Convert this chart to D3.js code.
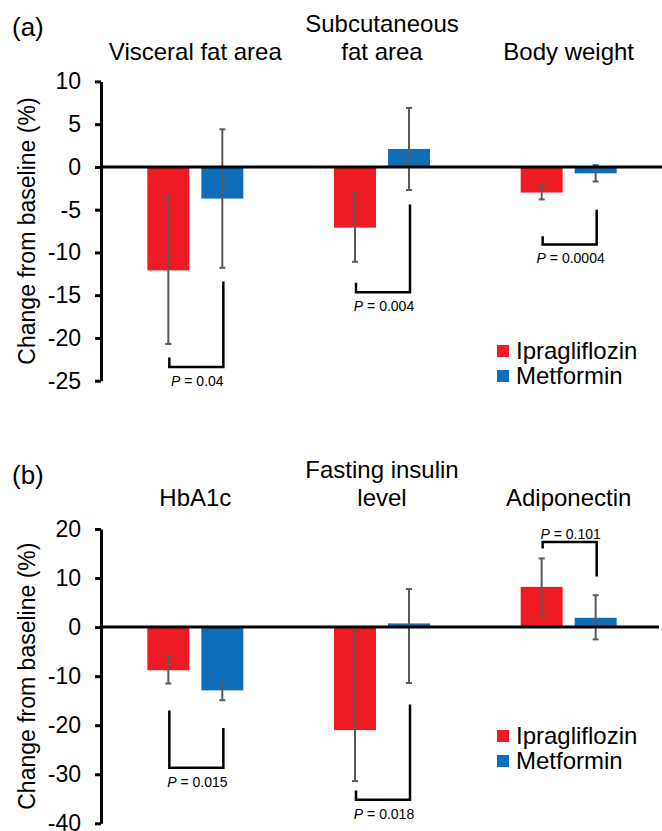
<!DOCTYPE html>
<html><head><meta charset="utf-8">
<script src="https://cdn.jsdelivr.net/npm/d3@7/dist/d3.min.js"></script>
<style>body{margin:0;background:#fff} svg{display:block;font-family:"Liberation Sans",Arial,Helvetica,sans-serif}</style>
</head><body><svg id="c" width="662" height="831"></svg>
<script>
// ---------- data ----------
const seriesNames = ["Ipragliflozin", "Metformin"];

// Panel (a)
const categoriesA = ["Visceral fat area", "Subcutaneous|fat area", "Body weight"];
const ticksA = [10, 5, 0, -5, -10, -15, -20, -25];
const ipraA = [-12.1, -7.1, -3.0];
const metA = [-3.7, 2.1, -0.75];
const ipraA_low = [-20.7, -11.1, -3.8];
const ipraA_high = [-3.5, -3.1, -2.1];
const metA_low = [-11.8, -2.7, -1.7];
const metA_high = [4.4, 6.9, 0.2];
const pValuesA = ["0.04", "0.004", "0.0004"];
const bracketA_bar = [-23.4, -14.65, -9.06];
const bracketA_left = [-22.3, -13.55, -8.1];
const bracketA_right = [-13.4, -4.4, -5.0];

// Panel (b)
const categoriesB = ["HbA1c", "Fasting insulin|level", "Adiponectin"];
const ticksB = [20, 10, 0, -10, -20, -30, -40];
const ipraB = [-8.8, -21.0, 8.2];
const metB = [-12.9, 0.75, 1.9];
const ipraB_low = [-11.5, -31.4, 2.4];
const ipraB_high = [-6.1, 0, 14.0];
const metB_low = [-14.9, -11.4, -2.5];
const metB_high = [-10.9, 7.75, 6.5];
const pValuesB = ["0.015", "0.018", "0.101"];
const bracketB_bar = [-28.7, -35.2, 17.35];
const bracketB_left = [-17.0, -33.3, 16.0];
const bracketB_right = [-20.55, -15.8, 10.3];

// ---------- layout ----------
const colors = ["#ED1C24", "#0F6EB9"];
const svg = d3.select("#c");

const panels = [
  { tag: "(a)", tagY: 36, cats: categoriesA, ticks: ticksA, yDomain: [-25, 10], yRange: [380.7, 81.4],
    values: [ipraA, metA], lows: [ipraA_low, metA_low], highs: [ipraA_high, metA_high],
    pv: pValuesA, bBar: bracketA_bar, bLeft: bracketA_left, bRight: bracketA_right,
    titleBase: 60, legendY: 345, zeroEnd: 662 },
  { tag: "(b)", tagY: 484, cats: categoriesB, ticks: ticksB, yDomain: [-40, 20], yRange: [823.3, 529],
    values: [ipraB, metB], lows: [ipraB_low, metB_low], highs: [ipraB_high, metB_high],
    pv: pValuesB, bBar: bracketB_bar, bLeft: bracketB_left, bRight: bracketB_right,
    titleBase: 506, legendY: 730, zeroEnd: 659 }
];

panels.forEach(p => {
  const g = svg.append("g");
  const x = d3.scaleBand().domain(p.cats).range([102, 662]);
  const xs = d3.scaleBand().domain(seriesNames).range([-48, 48]).paddingInner(2 - 96 / 54);
  const y = d3.scaleLinear().domain(p.yDomain).range(p.yRange);
  const cx = c => x(c) + x.bandwidth() / 2;

  // bars
  seriesNames.forEach((s, si) => {
    g.append("g").selectAll("rect").data(p.values[si]).join("rect")
      .attr("x", (d, i) => cx(p.cats[i]) + xs(s))
      .attr("width", xs.bandwidth())
      .attr("y", d => y(Math.max(d, 0)))
      .attr("height", d => Math.abs(y(d) - y(0)))
      .attr("fill", colors[si]);
  });

  // error bars
  seriesNames.forEach((s, si) => {
    const eg = g.append("g").attr("stroke", "#5a5a5a").attr("stroke-width", 2);
    p.values[si].forEach((d, i) => {
      const ex = cx(p.cats[i]) + xs(s) + xs.bandwidth() / 2;
      const lo = y(p.lows[si][i]), hi = y(p.highs[si][i]);
      eg.append("line").attr("x1", ex).attr("x2", ex).attr("y1", lo).attr("y2", hi);
      eg.append("line").attr("x1", ex - 3).attr("x2", ex + 3).attr("y1", lo).attr("y2", lo);
      eg.append("line").attr("x1", ex - 3).attr("x2", ex + 3).attr("y1", hi).attr("y2", hi);
    });
  });

  // zero line
  g.append("line").attr("x1", 101).attr("x2", p.zeroEnd)
    .attr("y1", y(0)).attr("y2", y(0)).attr("stroke", "#000").attr("stroke-width", 3);

  // axis
  const ax = g.append("g").attr("transform", "translate(101,0)")
    .call(d3.axisLeft(y).tickValues(p.ticks).tickSize(6).tickPadding(14).tickSizeOuter(0).tickFormat(d => String(d)));
  ax.select(".domain").attr("stroke-width", 3).attr("stroke", "#000");
  ax.selectAll(".tick line").attr("stroke-width", 3).attr("stroke", "#000");
  ax.selectAll(".tick text").attr("font-size", 23).attr("fill", "#000")
    .attr("font-family", '"Liberation Sans",Arial,sans-serif');

  // brackets + p-values
  p.cats.forEach((c, i) => {
    const xl = cx(c) + xs(seriesNames[0]) + xs.bandwidth() / 2 + 1;
    const xr = cx(c) + xs(seriesNames[1]) + xs.bandwidth() / 2 + 1;
    const yb = y(p.bBar[i]);
    g.append("path")
      .attr("d", `M${xl},${y(p.bLeft[i])}V${yb}H${xr}V${y(p.bRight[i])}`)
      .attr("fill", "none").attr("stroke", "#000").attr("stroke-width", 2.5);
    const above = p.bBar[i] > 0;
    const t = g.append("text").attr("x", (xl + xr) / 2 + 1)
      .attr("y", above ? yb - 3 : yb + 19)
      .attr("text-anchor", "middle").attr("font-size", 14).attr("fill", "#000");
    t.append("tspan").attr("font-style", "italic").text("P");
    t.append("tspan").text(" = " + p.pv[i]);
  });

  // category titles
  p.cats.forEach(c => {
    const lines = c.split("|");
    lines.forEach((ln, li) => {
      g.append("text").attr("x", cx(c)).attr("y", p.titleBase - (lines.length - 1 - li) * 28)
        .attr("text-anchor", "middle").attr("font-size", 24).attr("fill", "#000").text(ln);
    });
  });

  // panel tag
  g.append("text").attr("x", 12).attr("y", p.tagY).attr("font-size", 26).attr("fill", "#000").text(p.tag);

  // y label
  const ymid = (p.yRange[0] + p.yRange[1]) / 2;
  g.append("text").attr("transform", `translate(35,${ymid}) rotate(-90)`)
    .attr("text-anchor", "middle").attr("font-size", 23).attr("fill", "#000")
    .text("Change from baseline (%)");

  // legend
  seriesNames.forEach((s, si) => {
    const ly = p.legendY + si * 25;
    g.append("rect").attr("x", 497).attr("y", ly).attr("width", 12).attr("height", 12).attr("fill", colors[si]);
    g.append("text").attr("x", 516).attr("y", ly + 14).attr("font-size", 24).attr("fill", "#000").text(s);
  });
});
</script></body></html>
